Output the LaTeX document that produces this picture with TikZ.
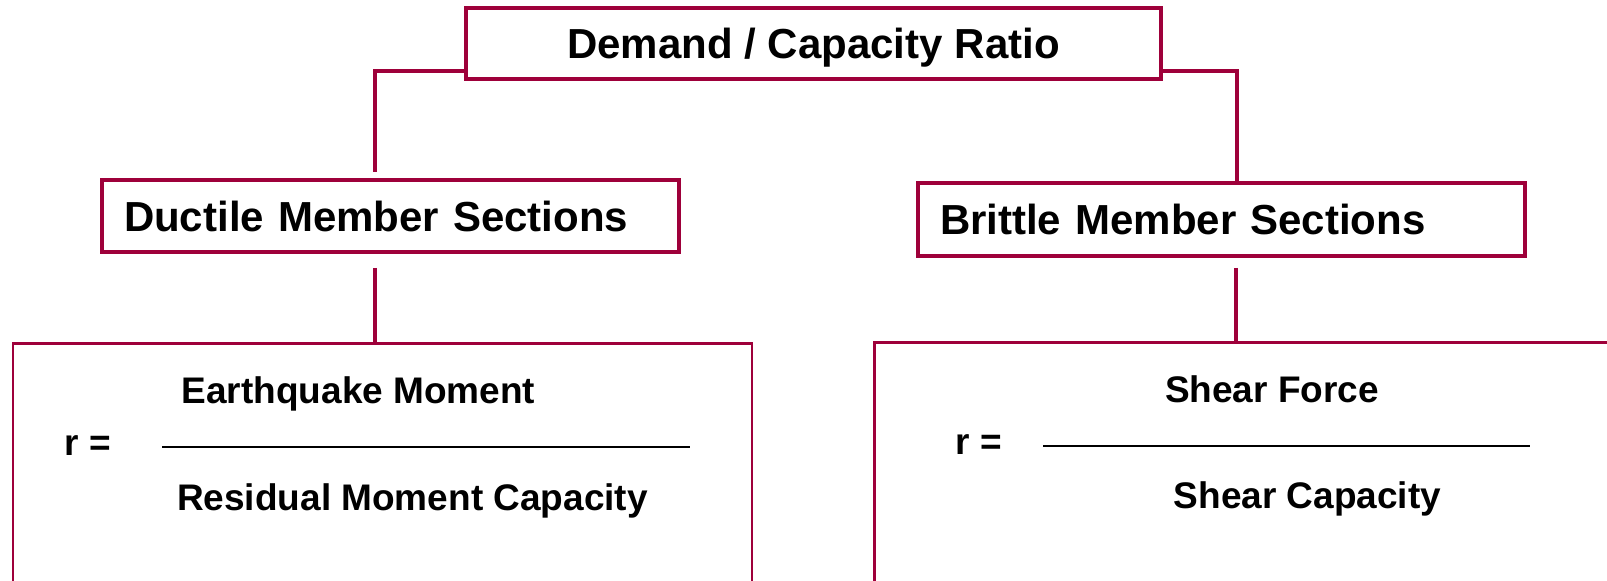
\documentclass[tikz,border=0pt]{standalone}
\usepackage{fontspec}
\setmainfont{Liberation Sans}
\usepackage{tikz}
\definecolor{crimson}{HTML}{9E003A}

\begin{document}
\begin{tikzpicture}[x=0.5pt,y=-0.5pt,
  head/.style={draw=crimson,line width=2pt,fill=white,minimum width=347.5pt,
              minimum height=35.5pt,inner sep=0pt,text depth=0pt,
              font=\fontsize{21}{25}\selectfont\bfseries},
  sect/.style={draw=crimson,line width=1.8pt,inner xsep=11pt,inner ysep=0pt,
              align=left,font=\fontsize{21}{25}\selectfont\bfseries},
  panel/.style={draw=crimson,line width=1.3pt,inner sep=0pt,minimum height=150pt},
  link/.style={draw=crimson,line width=1.8pt},
  txt/.style={font=\fontsize{18.5}{22}\selectfont\bfseries,anchor=base,inner sep=0pt},
  rule/.style={line width=1pt}]
\useasboundingbox (0,0) rectangle (1607,580);
\clip (0,0) rectangle (1607,580);
% boxes
\node[head] (ratio) at (813.5,43.5) {Demand / Capacity Ratio};
\node[sect,text width=266.5pt,minimum height=36pt] (ductile) at (390.5,216) {Ductile Member Sections};
\node[sect,text width=281.5pt,minimum height=36.5pt] (brittle) at (1221.5,219.5) {Brittle Member Sections};
\node[panel,minimum width=369.5pt,anchor=north] (dbox) at (382.5,342) {};
\node[panel,minimum width=400pt,anchor=north west] (bbox) at (873,341) {};
% connectors
\draw[link] ([yshift=5pt]ratio.south west) -| ([xshift=-7.75pt,yshift=3pt]ductile.north);
\draw[link] ([yshift=5pt]ratio.south east) -| ([xshift=7.75pt]brittle.north);
\draw[link] ([xshift=-7.75pt,yshift=-7pt]ductile.south) coordinate (dl) -- (dl |- dbox.north);
\draw[link] ([xshift=7.25pt,yshift=-5pt]brittle.south) coordinate (bl) -- (bl |- bbox.north);
% ductile ratio
\node[txt] (eqm) at (358.5,403) {Earthquake Moment};
\node[txt] (rmc) at (412.5,510) {Residual Moment Capacity};
\node[txt,anchor=base west] (rl) at (64,455) {r =};
\draw[rule] (162,447) -- (690,447);
% brittle ratio
\node[txt] (shf) at (1272,402) {Shear Force};
\node[txt] (shc) at (1307.5,508) {Shear Capacity};
\node[txt,anchor=base west] (rr) at (955,454) {r =};
\draw[rule] (1043,446) -- (1530,446);
\end{tikzpicture}
\end{document}
